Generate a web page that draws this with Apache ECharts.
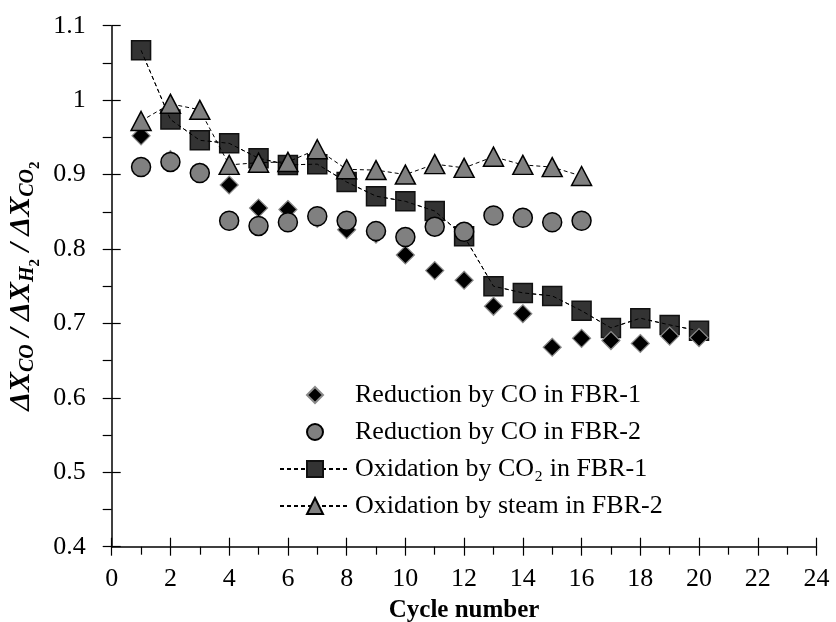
<!DOCTYPE html>
<html>
<head>
<meta charset="utf-8">
<script src="https://cdn.jsdelivr.net/npm/echarts@6/dist/echarts.min.js"></script>
<style>html,body{margin:0;padding:0;background:#fff}#c{width:836px;height:622px}</style>
</head>
<body>
<div id="c"></div>
<script>
const cyclesFBR1 = [1,2,3,4,5,6,7,8,9,10,11,12,13,14,15,16,17,18,19,20];
const cyclesFBR2 = [1,2,3,4,5,6,7,8,9,10,11,12,13,14,15,16];
const reductionFBR1 = [0.952,0.920,0.903,0.886,0.855,0.853,0.841,0.826,0.820,0.792,0.771,0.758,0.723,0.713,0.668,0.680,0.677,0.673,0.683,0.681];
const reductionFBR2 = [0.910,0.917,0.902,0.838,0.831,0.836,0.844,0.838,0.824,0.816,0.830,0.823,0.845,0.842,0.836,0.838];
const oxidationCO2FBR1 = [1.067,0.974,0.946,0.942,0.922,0.913,0.914,0.890,0.871,0.864,0.851,0.817,0.750,0.741,0.737,0.717,0.694,0.707,0.698,0.690];
const oxidationSteamFBR2 = [0.972,0.995,0.987,0.913,0.916,0.917,0.934,0.907,0.906,0.900,0.914,0.909,0.924,0.913,0.910,0.898];
const seriesNames = ['Reduction by CO in FBR-1','Reduction by CO in FBR-2','Oxidation by CO\u2082 in FBR-1','Oxidation by steam in FBR-2'];
const xTicks = {min:0, max:24, interval:2};
const yTicks = {min:0.4, max:1.1, interval:0.1};

const pairs = (xs, ys) => xs.map((x, i) => [x, ys[i]]);
const FONT = 'Liberation Serif';
const chart = echarts.init(document.getElementById('c'), null, {renderer:'canvas'});

const baseX = {type:'value', min:xTicks.min, max:xTicks.max, interval:xTicks.interval, position:'bottom', splitLine:{show:false}};
const baseY = {type:'value', min:yTicks.min, max:yTicks.max, interval:yTicks.interval, position:'left', splitLine:{show:false}};
const axLine = {show:true, onZero:false, lineStyle:{color:'#000', width:1.5}};
const tickStyle = {color:'#000', width:1.2};

chart.setOption({
  animation:false,
  backgroundColor:'#fff',
  grid:{left:111.7, right:19.5, top:25.7, bottom:75.3, containLabel:false, outerBoundsMode:'none'},
  xAxis:[
    Object.assign({}, baseX, {
      axisLine:axLine,
      axisTick:{show:true, inside:false, length:9, lineStyle:tickStyle},
      minorTick:{show:true, splitNumber:2, length:8, lineStyle:tickStyle},
      axisLabel:{color:'#000', fontFamily:FONT, fontSize:26, margin:19},
      name:'Cycle number', nameLocation:'middle', nameGap:51,
      nameTextStyle:{color:'#000', fontFamily:FONT, fontSize:25, fontWeight:'bold'}
    }),
    Object.assign({}, baseX, {
      axisLine:{show:false, onZero:false},
      axisTick:{show:true, inside:true, length:9, lineStyle:tickStyle},
      axisLabel:{show:false}
    })
  ],
  yAxis:[
    Object.assign({}, baseY, {
      axisLine:axLine,
      axisTick:{show:true, inside:false, length:9, lineStyle:tickStyle},
      minorTick:{show:true, splitNumber:2, length:9, lineStyle:tickStyle},
      axisLabel:{color:'#000', fontFamily:FONT, fontSize:26, margin:26,
        formatter:v => String(+(+v).toFixed(1))},
      name:'{m|\u0394X}{s|CO}{m| / \u0394X}{s|H}{ss|2}{m| / \u0394X}{s|CO}{ss|2}',
      nameLocation:'middle', nameGap:64, nameRotate:90,
      nameTextStyle:{
        color:'#000',
        rich:{
          m:{fontFamily:FONT, fontSize:30, fontWeight:'bold', fontStyle:'italic', color:'#000'},
          s:{fontFamily:FONT, fontSize:20, fontWeight:'bold', fontStyle:'italic', color:'#000', padding:[14,0,0,0]},
          ss:{fontFamily:FONT, fontSize:15, fontWeight:'bold', fontStyle:'normal', color:'#000', padding:[28,0,0,0]}
        }
      }
    }),
    Object.assign({}, baseY, {
      axisLine:{show:false, onZero:false},
      axisTick:{show:true, inside:true, length:9, lineStyle:tickStyle},
      axisLabel:{show:false}
    })
  ],
  legend:{
    orient:'vertical', left:274, top:377,
    itemWidth:70, itemHeight:20, itemGap:11,
    symbolKeepAspect:true,
    data:seriesNames,
    textStyle:{color:'#000', fontFamily:FONT, fontSize:26}
  },
  series:[
    {
      name:seriesNames[2], type:'line', z:1,
      data:pairs(cyclesFBR1, oxidationCO2FBR1),
      symbol:'rect', symbolSize:19, showSymbol:true,
      itemStyle:{color:'#333333', borderColor:'#111', borderWidth:1.5},
      lineStyle:{color:'#000', width:1, type:[4,3]}
    },
    {
      name:'sqline', type:'line', z:2, silent:true,
      data:pairs(cyclesFBR1, oxidationCO2FBR1),
      symbol:'none',
      lineStyle:{color:'#000', width:1, type:[4,3]}
    },
    {
      name:seriesNames[0], type:'line', z:3,
      data:pairs(cyclesFBR1, reductionFBR1),
      symbol:'diamond', symbolSize:18, showSymbol:true,
      itemStyle:{color:'#000', borderColor:'#8a8a8a', borderWidth:1.2},
      lineStyle:{opacity:0, width:0}
    },
    {
      name:seriesNames[1], type:'line', z:4,
      data:pairs(cyclesFBR2, reductionFBR2),
      symbol:'circle', symbolSize:19, showSymbol:true,
      itemStyle:{color:'#808080', borderColor:'#000', borderWidth:1.5},
      lineStyle:{opacity:0, width:0}
    },
    {
      name:seriesNames[3], type:'line', z:5,
      data:pairs(cyclesFBR2, oxidationSteamFBR2),
      symbol:'triangle', symbolSize:[20,19], showSymbol:true,
      itemStyle:{color:'#808080', borderColor:'#000', borderWidth:1.5},
      lineStyle:{color:'#000', width:1, type:[4,3]}
    }
  ]
});
</script>
</body>
</html>
